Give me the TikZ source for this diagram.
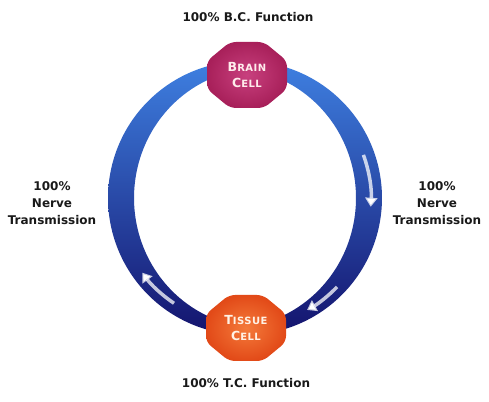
\documentclass[tikz,border=0pt]{standalone}
\usepackage{fontspec}
\setmainfont{DejaVu Sans}
\newfontfamily\cellfont[LetterSpace=5]{DejaVu Sans}
\usetikzlibrary{arrows.meta}
\definecolor{lblue}{HTML}{3E7FE0}
\definecolor{mblue}{HTML}{2A45C0}
\definecolor{dblue}{HTML}{14146E}
\definecolor{brainc}{HTML}{A8205A}
\definecolor{brainhi}{HTML}{C8407E}
\definecolor{tissuec}{HTML}{E24A18}
\definecolor{tissuehi}{HTML}{F47A3A}
\tikzset{
  lbl/.style={font=\bfseries\fontsize{12}{17}\selectfont, align=center, text=black!90},
  celltext/.style={font=\cellfont\bfseries\fontsize{10}{16}\selectfont, align=center},
  arr/.style={line width=3.5pt, draw=white, draw opacity=0.75, -{Triangle[width=12pt,length=9pt]}},
}
\newcommand{\cellshape}[1]{%
  (#1) ++(-17,33) -- ++(34,0) -- ++(23,-19) -- ++(0,-28) -- ++(-23,-19) -- ++(-34,0) -- ++(-23,19) -- ++(0,28) -- cycle}
\newcommand{\capl}[1]{{\fontsize{12.5}{16}\selectfont #1}}
\begin{document}
\begin{tikzpicture}[x=1pt,y=1pt]
\useasboundingbox (0,0) rectangle (489,401);
% left arc
\shade[top color=lblue, middle color=mblue, bottom color=dblue]
  plot[smooth, domain=100:260, samples=50] ({245+137*cos(\x)},{203+137*sin(\x)})
  -- plot[smooth, domain=260:100, samples=50] ({245+(137-11-15*cos((\x-180)*90/80))*cos(\x)},{203+(137-11-15*cos((\x-180)*90/80))*sin(\x)})
  -- cycle;
% right arc
\shade[top color=lblue, middle color=mblue, bottom color=dblue]
  plot[smooth, domain=80:-80, samples=50] ({245+137*cos(\x)},{203+137*sin(\x)})
  -- plot[smooth, domain=-80:80, samples=50] ({245+(137-11-15*cos(\x*90/80))*cos(\x)},{203+(137-11-15*cos(\x*90/80))*sin(\x)})
  -- cycle;
% arrows
\coordinate (ra1) at ({245+126*cos(20)},{203+126*sin(20)});
\draw[arr] (ra1) arc[start angle=20, end angle=-4, radius=126];
\coordinate (rb1) at ({245+128*cos(-44)},{203+128*sin(-44)});
\draw[arr] (rb1) arc[start angle=-44, end angle=-61, radius=128];
\coordinate (la1) at ({245+127*cos(236)},{203+127*sin(236)});
\draw[arr] (la1) arc[start angle=236, end angle=216, radius=127];
% cells
\coordinate (bc) at (247,326);
\coordinate (tc) at (246,73);
\shade[inner color=brainhi, outer color=brainc, rounded corners=6pt] \cellshape{bc};
\shade[inner color=tissuehi, outer color=tissuec, rounded corners=6pt] \cellshape{tc};
\node[celltext, text=pink!30] (brain) at (bc) {\capl{B}RAIN\\\capl{C}ELL};
\node[celltext, text=orange!10] (tissue) at (tc) {\capl{T}ISSUE\\\capl{C}ELL};
% labels
\node[lbl] (top) at (248,384) {100\% B.C. Function};
\node[lbl] (bot) at (246,18) {100\% T.C. Function};
\node[lbl] (left) at (52,198) {100\%\\Nerve\\Transmission};
\node[lbl] (right) at (437,198) {100\%\\Nerve\\Transmission};
\end{tikzpicture}
\end{document}
